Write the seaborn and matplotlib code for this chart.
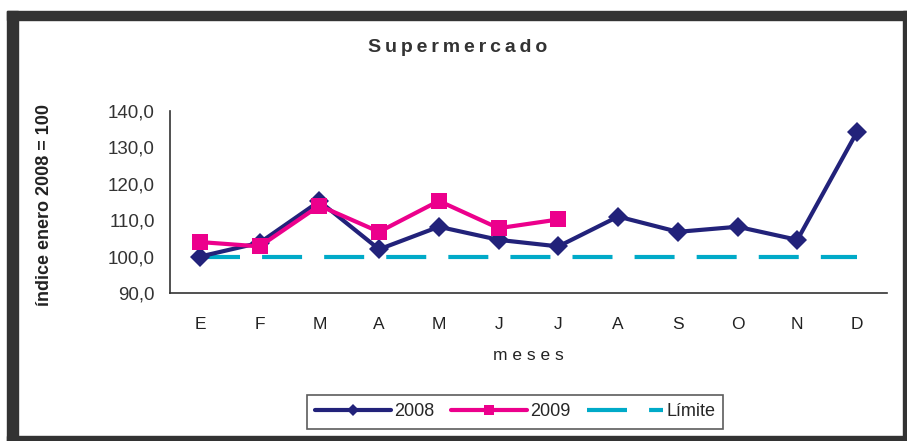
import numpy as np
import pandas as pd
import matplotlib
matplotlib.use("Agg")
import matplotlib.pyplot as plt
from matplotlib.patches import Rectangle
from matplotlib.ticker import FuncFormatter, FixedLocator
import seaborn as sns

# Data
months = ["E", "F", "M", "A", "M", "J", "J", "A", "S", "O", "N", "D"]
vals_2008 = [100.0, 103.8, 115.2, 102.0, 108.2, 104.6, 102.8, 111.0, 106.8, 108.2, 104.6, 134.3]
vals_2009 = [104.0, 102.8, 114.0, 106.8, 115.3, 107.8, 110.2]
limite = [100.0] * 12

NAVY = "#22227a"
MAGENTA = "#ec008c"
CYAN = "#00aac8"

sns.set_style("white")
plt.rcParams["font.family"] = ["Liberation Sans", "DejaVu Sans"]

df08 = pd.DataFrame({"pos": np.arange(len(vals_2008)), "valor": vals_2008})
df09 = pd.DataFrame({"pos": np.arange(len(vals_2009)), "valor": vals_2009})
dflim = pd.DataFrame({"pos": np.arange(len(limite)), "valor": limite})

fig = plt.figure(figsize=(9.07, 4.41), dpi=100)
ax = fig.add_axes([170 / 907, 1 - 293 / 441, (887 - 170) / 907, (293 - 111) / 441])

sns.lineplot(data=dflim, x="pos", y="valor", ax=ax, color=CYAN, lw=3,
             dashes=False, label="Límite", zorder=2)
ax.lines[-1].set_dashes([9.6, 5.3])
ax.lines[-1].set_dash_capstyle("butt")
sns.lineplot(data=df08, x="pos", y="valor", ax=ax, color=NAVY, lw=3,
             marker="D", markersize=10, markeredgewidth=0, label="2008", zorder=3)
sns.lineplot(data=df09, x="pos", y="valor", ax=ax, color=MAGENTA, lw=3,
             marker="s", markersize=12, markeredgewidth=0, label="2009", zorder=4)

ax.set_xlim(-0.5, 11.5)
ax.set_ylim(90, 140)
ax.yaxis.set_major_locator(FixedLocator([90, 100, 110, 120, 130, 140]))
ax.yaxis.set_major_formatter(FuncFormatter(lambda v, p: f"{v:.1f}".replace(".", ",")))
ax.set_xticks(np.arange(-0.5, 12, 1))
ax.set_xticklabels([])
ax.set_xticks(np.arange(12), minor=True)
ax.set_xticklabels(months, minor=True)
ax.tick_params(axis="x", which="major", length=5, width=1, color="#333333", direction="out")
ax.tick_params(axis="x", which="minor", length=0, pad=17, labelsize=12.5, labelcolor="#222222")
ax.tick_params(axis="y", length=5, width=1, color="#333333", direction="out",
               labelsize=13.5, labelcolor="#333333", pad=6)
for s in ["top", "right"]:
    ax.spines[s].set_visible(False)
for s in ["left", "bottom"]:
    ax.spines[s].set_color("#333333")
    ax.spines[s].set_linewidth(1.2)

ax.set_xlabel("m e s e s", fontsize=12.5, color="#222222", labelpad=12)
ax.set_ylabel("")
fig.text(45 / 907, 1 - 205 / 441, "índice enero 2008 = 100", rotation=90, ha="center",
         va="center", fontsize=13, fontweight="bold", color="#222222")
fig.text(458 / 907, 1 - 47 / 441, "\u2009".join("Supermercado"), ha="center", va="center",
         fontsize=14, fontweight="bold", color="#333333")

handles, labels = ax.get_legend_handles_labels()
order = [labels.index("2008"), labels.index("2009"), labels.index("Límite")]
leg = ax.legend([handles[i] for i in order], [labels[i] for i in order],
                loc="center", bbox_to_anchor=(515 / 907, 1 - 412 / 441),
                bbox_transform=fig.transFigure, ncol=3, frameon=True, fancybox=False,
                fontsize=13, handlelength=4.2, handletextpad=0.2, columnspacing=0.9,
                borderpad=0.45, markerscale=0.6)
leg.get_frame().set_edgecolor("#333333")
leg.get_frame().set_linewidth(1.2)

# dark outer frame
W, H = 907, 441
for (x0, y0, w, h) in [(7, 11, 900, 9), (7, 11, 11, 430), (903, 11, 4, 430), (7, 436, 900, 5)]:
    fig.patches.append(Rectangle((x0 / W, 1 - (y0 + h) / H), w / W, h / H,
                                 transform=fig.transFigure, color="#333333", zorder=10))

fig.savefig("out.png", dpi=100)
